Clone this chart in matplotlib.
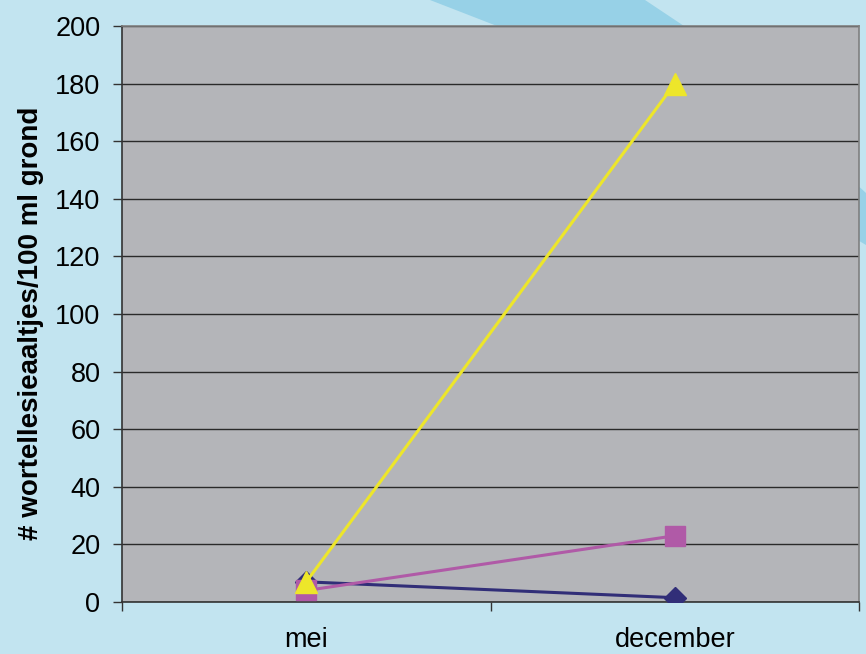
import matplotlib.pyplot as plt
from matplotlib.patches import Polygon

plt.rcParams['font.family'] = ['Liberation Sans', 'DejaVu Sans']

months = ["mei", "december"]
navy_vals = [7, 1.5]
magenta_vals = [4, 23]
yellow_vals = [7, 180]
yticks = list(range(0, 201, 20))

W, H = 866, 654
fig = plt.figure(figsize=(W / 100, H / 100), dpi=100)
fig.patch.set_facecolor("#C2E4F0")

# darker diagonal band behind the chart
band = [(430, 0), (645, 0), (684, 26), (866, 193), (866, 245), (497, 26)]
fig.patches.append(Polygon([(x / W, 1 - y / H) for x, y in band],
                           closed=True, transform=fig.transFigure,
                           facecolor="#97D1E7", edgecolor="none", zorder=-1))

ax = fig.add_axes([122 / W, 52 / H, 737 / W, 576 / H])
ax.set_zorder(2)
ax.set_facecolor("#B4B5B9")

x = range(len(months))
ax.plot(x, navy_vals, color="#312E78", lw=2.2, marker="D", ms=11, zorder=3)
ax.plot(x, magenta_vals, color="#B05AA7", lw=2.2, marker="s", ms=14, zorder=4)
ax.plot(x, yellow_vals, color="#EDE62A", lw=2.2, marker="^", ms=16, zorder=5)

ax.set_ylim(0, 200)
ax.set_yticks(yticks)
ax.set_xlim(-0.5, 1.5)
ax.set_xticks([-0.5, 0.5, 1.5])
ax.set_xticklabels([])
ax.set_xticks(list(x), minor=True)
ax.set_xticklabels(months, minor=True)

ax.yaxis.grid(True, color="#2a2a2a", lw=1)
ax.set_axisbelow(True)

ax.tick_params(axis="y", direction="out", length=6.5, width=1, color="#333333",
               labelsize=19.5, pad=9)
ax.tick_params(axis="x", which="major", direction="out", length=6.5, width=1,
               color="#333333")
ax.tick_params(axis="x", which="minor", length=0, labelsize=19.5, pad=18)

for s in ["left", "bottom"]:
    ax.spines[s].set_color("#333333")
    ax.spines[s].set_linewidth(1.2)
for s in ["top", "right"]:
    ax.spines[s].set_color("#808080")
    ax.spines[s].set_linewidth(1.2)

fig.text(31 / W, 1 - 323 / H, "# wortellesieaaltjes/100 ml grond",
         rotation=90, fontsize=20, fontweight="bold", ha="center", va="center")

fig.savefig("out.png", dpi=100, facecolor=fig.get_facecolor())
